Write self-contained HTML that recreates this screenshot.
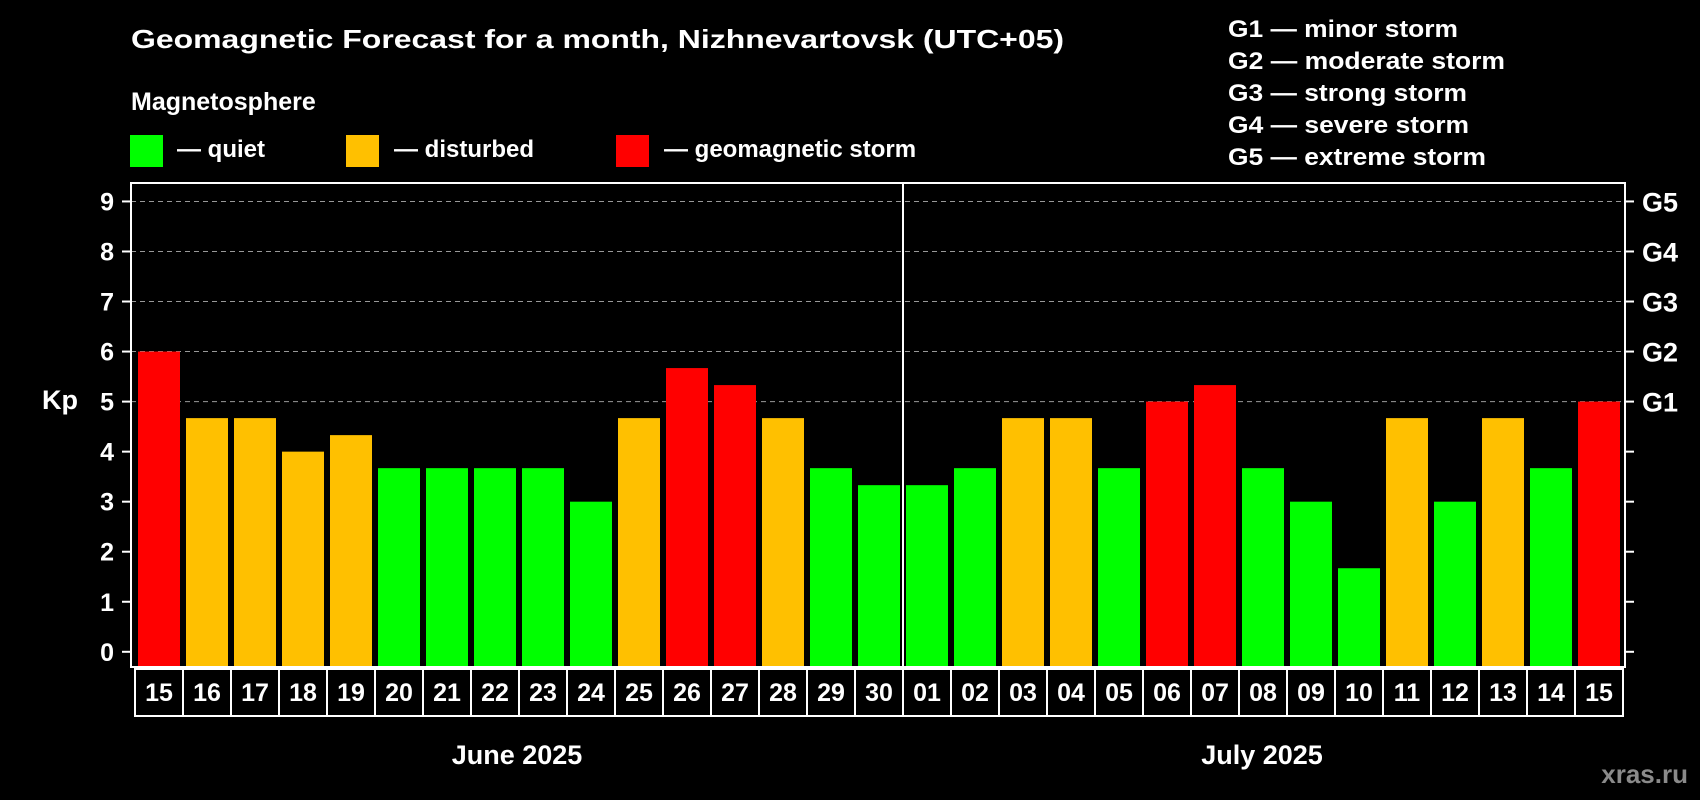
<!DOCTYPE html>
<html><head><meta charset="utf-8"><style>
html,body{margin:0;padding:0;background:#000;}
svg{display:block;font-family:"Liberation Sans",Arial,sans-serif;font-weight:bold;}
</style></head><body>
<svg id="chart" width="1700" height="800" viewBox="0 0 1700 800">
<text x="131" y="48" fill="#fff" font-size="26" textLength="933" lengthAdjust="spacingAndGlyphs">Geomagnetic Forecast for a month, Nizhnevartovsk (UTC+05)</text>
<text x="131" y="110" fill="#fff" font-size="25">Magnetosphere</text>
<g>
<rect x="130" y="135" width="33" height="32" fill="#00ff00"/>
<text x="177" y="157" fill="#fff" font-size="24">— quiet</text></g>
<g>
<rect x="346" y="135" width="33" height="32" fill="#ffc000"/>
<text x="394" y="157" fill="#fff" font-size="24">— disturbed</text></g>
<g>
<rect x="616" y="135" width="33" height="32" fill="#ff0000"/>
<text x="664" y="157" fill="#fff" font-size="24">— geomagnetic storm</text></g>
<g fill="#fff" font-size="24">
<text x="1228" y="37" textLength="230" lengthAdjust="spacingAndGlyphs">G1 — minor storm</text>
<text x="1228" y="69" textLength="277" lengthAdjust="spacingAndGlyphs">G2 — moderate storm</text>
<text x="1228" y="101" textLength="239" lengthAdjust="spacingAndGlyphs">G3 — strong storm</text>
<text x="1228" y="133" textLength="241" lengthAdjust="spacingAndGlyphs">G4 — severe storm</text>
<text x="1228" y="165" textLength="258" lengthAdjust="spacingAndGlyphs">G5 — extreme storm</text>
</g>
<text x="42" y="409" fill="#fff" font-size="27">Kp</text>
<text x="517" y="764" fill="#fff" font-size="27" text-anchor="middle">June 2025</text>
<text x="1262" y="764" fill="#fff" font-size="27" text-anchor="middle">July 2025</text>
<text x="1688" y="783" fill="#8a8a8a" font-size="26" text-anchor="end">xras.ru</text>
<g id="plot"></g>
</svg>
<script>
const days=["15","16","17","18","19","20","21","22","23","24","25","26","27","28","29","30","01","02","03","04","05","06","07","08","09","10","11","12","13","14","15"];
const kpValues=[6,4.67,4.67,4,4.33,3.67,3.67,3.67,3.67,3,4.67,5.67,5.33,4.67,3.67,3.33,3.33,3.67,4.67,4.67,3.67,5,5.33,3.67,3,1.67,4.67,3,4.67,3.67,5];
const yTicks=[0,1,2,3,4,5,6,7,8,9];
const gLevels=[5,6,7,8,9];
const gLabels=["G1","G2","G3","G4","G5"];
const NS="http://www.w3.org/2000/svg";
const plot=document.getElementById('plot');
const L=131,R=1625,T=183,B=667,X0=135,STEP=48;
function y(v){return 651.8-v*50.04;}
function xs(i){return X0+i*STEP;}
function mk(tag,attrs){const e=document.createElementNS(NS,tag);for(const k in attrs)e.setAttribute(k,attrs[k]);plot.appendChild(e);return e;}
function color(v){return v>=5?"#ff0000":(v>=4?"#ffc000":"#00ff00");}
gLevels.forEach((v,i)=>{
 const g=mk('line',{x1:L,x2:R,y1:y(v),y2:y(v),stroke:"#999","stroke-width":1,"stroke-dasharray":"5,4"});
 
 
 const t=mk('text',{x:1642,y:y(v)+10,fill:"#fff","font-size":27});
 t.textContent=gLabels[i];
 
 
});
yTicks.forEach(v=>{
 const t=mk('line',{x1:122,x2:L,y1:y(v),y2:y(v),stroke:"#fff","stroke-width":2});
 
 
 const t2=mk('line',{x1:R,x2:1634,y1:y(v),y2:y(v),stroke:"#fff","stroke-width":2});
 
 
 const lb=mk('text',{x:114,y:y(v)+9,fill:"#fff","font-size":25,"text-anchor":"end"});
 lb.textContent=v;
 
 
});
kpValues.forEach((v,i)=>{
 const b=mk('rect',{x:xs(i)+3,y:y(v),width:42,height:B-y(v),fill:color(v)});
 
 
 const bx=mk('rect',{x:xs(i),y:669,width:STEP,height:47,fill:"none",stroke:"#fff","stroke-width":2});
 
 
 const t=mk('text',{x:xs(i)+STEP/2,y:701,fill:"#fff","font-size":25,"text-anchor":"middle"});
 t.textContent=days[i];
 
 
});
const fr=mk('rect',{x:L,y:T,width:R-L,height:B-T,fill:"none",stroke:"#fff","stroke-width":2});


const dv=mk('line',{x1:xs(16),x2:xs(16),y1:T,y2:B,stroke:"#fff","stroke-width":2});


</script>
</body></html>
